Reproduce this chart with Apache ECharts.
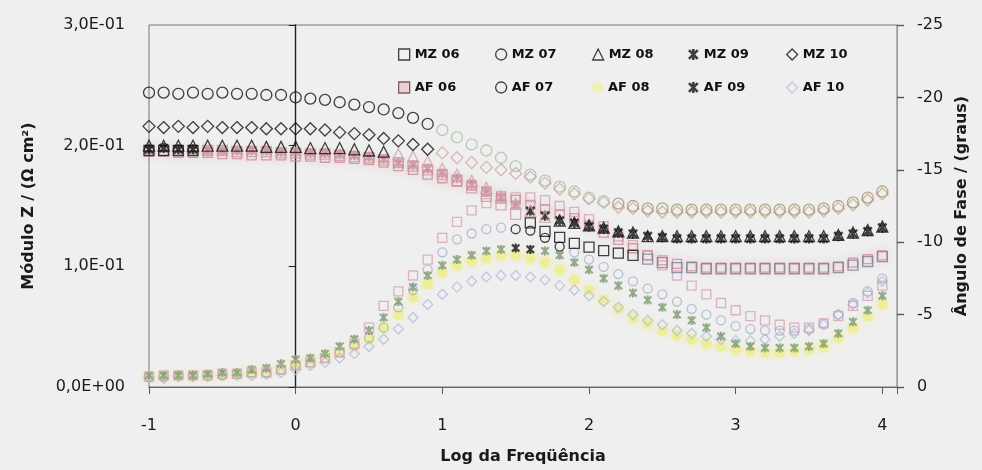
<!DOCTYPE html>
<html>
<head>
<meta charset="utf-8">
<title>Módulo Z e Ângulo de Fase</title>
<script src="https://cdn.jsdelivr.net/npm/echarts@6.0.0/dist/echarts.min.js"></script>
<style>
  html, body { margin: 0; padding: 0; background: #efefef; }
  #chart { width: 982px; height: 470px; }
</style>
</head>
<body>
<div id="chart"></div>
<script>
// log da frequência dos pontos medidos
const logF = [-1.0,-0.9,-0.8,-0.7,-0.6,-0.5,-0.4,-0.3,-0.2,-0.1,
  0.0,0.1,0.2,0.3,0.4,0.5,0.6,0.7,0.8,0.9,
  1.0,1.1,1.2,1.3,1.4,1.5,1.6,1.7,1.8,1.9,
  2.0,2.1,2.2,2.3,2.4,2.5,2.6,2.7,2.8,2.9,
  3.0,3.1,3.2,3.3,3.4,3.5,3.6,3.7,3.8,3.9,
  4.0];

// módulo Z (eixo esquerdo)
const mz06Mod = [0.196,0.196,0.196,0.196,0.196,0.196,0.195,0.195,0.195,0.194,
  0.194,0.193,0.193,0.192,0.191,0.190,0.188,0.186,0.183,0.180,
  0.176,0.171,0.165,0.158,0.151,0.143,0.136,0.129,0.124,0.119,
  0.116,0.113,0.111,0.109,0.106,0.103,0.099,0.099,0.098,0.098,
  0.098,0.098,0.098,0.098,0.098,0.098,0.098,0.099,0.101,0.104,
  0.108];
const mz07Mod = [0.244,0.244,0.243,0.244,0.243,0.244,0.243,0.243,0.242,0.242,
  0.240,0.239,0.238,0.236,0.234,0.232,0.230,0.227,0.223,0.218,
  0.213,0.207,0.201,0.196,0.190,0.183,0.176,0.171,0.166,0.162,
  0.157,0.154,0.152,0.150,0.148,0.148,0.147,0.147,0.147,0.147,
  0.147,0.147,0.147,0.147,0.147,0.147,0.148,0.150,0.153,0.157,
  0.162];
const mz08Mod = [0.200,0.200,0.200,0.200,0.200,0.200,0.200,0.200,0.199,0.199,
  0.199,0.198,0.198,0.198,0.197,0.196,0.195,0.193,0.191,0.187,
  0.181,0.176,0.171,0.165,0.158,0.152,0.146,0.141,0.138,0.136,
  0.134,0.132,0.129,0.128,0.125,0.125,0.125,0.125,0.125,0.125,
  0.125,0.125,0.125,0.125,0.125,0.125,0.125,0.126,0.128,0.130,
  0.133];
const mz09Mod = [0.197,0.198,0.197,0.197,0.196,0.196,0.196,0.196,0.196,0.195,
  0.195,0.194,0.194,0.193,0.192,0.191,0.189,0.186,0.184,0.181,
  0.177,0.173,0.168,0.162,0.157,0.151,0.146,0.142,0.138,0.136,
  0.133,0.131,0.128,0.127,0.125,0.124,0.123,0.123,0.123,0.123,
  0.123,0.123,0.123,0.123,0.123,0.123,0.123,0.125,0.127,0.129,
  0.132];
const mz10Mod = [0.216,0.215,0.216,0.215,0.216,0.215,0.215,0.215,0.214,0.214,
  0.214,0.214,0.213,0.211,0.210,0.209,0.206,0.204,0.201,0.197,
  0.194,0.190,0.186,0.182,0.180,0.177,0.174,0.169,0.164,0.160,
  0.156,0.153,0.149,0.148,0.146,0.145,0.145,0.145,0.145,0.145,
  0.145,0.145,0.145,0.145,0.145,0.145,0.146,0.148,0.151,0.155,
  0.160];
const af06Mod = [0.195,0.195,0.194,0.194,0.194,0.193,0.193,0.192,0.192,0.192,
  0.191,0.191,0.190,0.190,0.189,0.188,0.186,0.183,0.180,0.176,
  0.173,0.170,0.167,0.162,0.158,0.155,0.151,0.147,0.143,0.140,
  0.134,0.128,0.122,0.115,0.109,0.105,0.102,0.100,0.099,0.099,
  0.099,0.099,0.099,0.099,0.099,0.099,0.099,0.100,0.103,0.106,
  0.109];

// ângulo de fase em graus (eixo direito)
const af06Phase = [-0.7,-0.8,-0.8,-0.8,-0.8,-0.9,-0.9,-1.0,-1.0,-1.2,
  -1.5,-1.7,-2.0,-2.4,-3.0,-4.1,-5.6,-6.6,-7.7,-8.8,
  -10.3,-11.4,-12.2,-12.7,-13.0,-13.1,-13.1,-12.9,-12.5,-12.1,
  -11.6,-11.1,-10.4,-9.8,-9.1,-8.4,-7.7,-7.0,-6.4,-5.8,
  -5.3,-4.9,-4.6,-4.3,-4.1,-4.1,-4.4,-4.9,-5.6,-6.3,
  -7.0];
const af07Phase = [-0.7,-0.7,-0.8,-0.8,-0.8,-0.8,-0.9,-1.0,-1.0,-1.2,
  -1.5,-1.7,-2.0,-2.4,-2.9,-3.4,-4.1,-5.5,-6.7,-8.1,
  -9.3,-10.2,-10.6,-10.9,-11.0,-10.9,-10.8,-10.3,-9.7,-9.3,
  -8.8,-8.3,-7.8,-7.3,-6.8,-6.4,-5.9,-5.4,-5.0,-4.6,
  -4.2,-4.0,-3.9,-3.9,-3.9,-4.0,-4.4,-5.0,-5.8,-6.6,
  -7.5];
const af08Phase = [-0.7,-0.7,-0.8,-0.8,-0.8,-0.8,-0.9,-1.0,-1.1,-1.3,
  -1.6,-1.8,-2.1,-2.4,-2.8,-3.3,-4.1,-5.0,-6.2,-7.1,
  -7.9,-8.4,-8.7,-8.9,-9.1,-9.1,-8.9,-8.6,-8.1,-7.4,
  -6.7,-6.0,-5.4,-4.8,-4.4,-3.9,-3.6,-3.3,-3.0,-2.8,
  -2.6,-2.5,-2.4,-2.4,-2.5,-2.6,-2.8,-3.4,-4.1,-4.9,
  -5.7];
const af09Phase = [-0.8,-0.8,-0.8,-0.8,-0.9,-1.0,-1.0,-1.2,-1.3,-1.6,
  -1.9,-2.0,-2.3,-2.8,-3.3,-3.9,-4.8,-5.9,-6.9,-7.7,
  -8.4,-8.8,-9.1,-9.4,-9.5,-9.6,-9.5,-9.4,-9.1,-8.6,
  -8.1,-7.5,-7.0,-6.5,-6.0,-5.5,-5.0,-4.6,-4.1,-3.5,
  -3.0,-2.8,-2.7,-2.7,-2.7,-2.8,-3.0,-3.7,-4.5,-5.3,
  -6.3];
const af10Phase = [-0.6,-0.6,-0.7,-0.7,-0.7,-0.8,-0.8,-0.8,-0.9,-1.0,
  -1.2,-1.5,-1.7,-2.0,-2.3,-2.8,-3.3,-4.0,-4.8,-5.7,
  -6.4,-6.9,-7.3,-7.6,-7.7,-7.7,-7.6,-7.4,-7.0,-6.7,
  -6.3,-5.9,-5.5,-5.0,-4.6,-4.3,-3.9,-3.7,-3.5,-3.3,
  -3.2,-3.2,-3.3,-3.5,-3.7,-3.9,-4.3,-5.0,-5.7,-6.5,
  -7.3];

const FONT = 'DejaVu Sans';
const ASTERISK = 'path://M3.8,0L6.2,0L6.2,10L3.8,10Z' +
  'M1.85,0.15L9.85,8.15L8.15,9.85L0.15,1.85Z' +
  'M9.85,1.85L1.85,9.85L0.15,8.15L8.15,0.15Z';

// cor de cada trecho: [até log f, cor]
function colorAt(segs, x) {
  for (const [upTo, c] of segs) if (x <= upTo) return c;
  return segs[segs.length - 1][1];
}

function scatter(name, yAxisIndex, values, symbol, size, segs, hollow, extra) {
  const data = values.map((v, i) => {
    const c = colorAt(segs, logF[i]);
    return {
      value: [logF[i], v],
      itemStyle: hollow ? { color: 'rgba(0,0,0,0)', borderColor: c } : { color: c }
    };
  });
  return Object.assign({
    type: 'scatter',
    name: name,
    yAxisIndex: yAxisIndex,
    symbol: symbol,
    symbolSize: size,
    data: data,
    itemStyle: { borderWidth: hollow ? 1.3 : 0 },
    emphasis: { disabled: true },
    silent: true
  }, extra || {});
}

const hollowIcon = c => ({ color: 'rgba(0,0,0,0)', borderColor: c, borderWidth: 1.3 });

// uma legenda por coluna para manter o espaçamento da figura
const legendCols = [398, 495, 592, 688, 786];
const legendRows = [48, 81];
const legendItems = [
  [
    { name: 'MZ 06', icon: 'rect', itemStyle: hollowIcon('#111') },
    { name: 'MZ 07', icon: 'circle', itemStyle: hollowIcon('#111') },
    { name: 'MZ 08', icon: 'triangle', itemStyle: hollowIcon('#111') },
    { name: 'MZ 09', icon: ASTERISK, itemStyle: { color: '#111', borderWidth: 0 } },
    { name: 'MZ 10', icon: 'diamond', itemStyle: hollowIcon('#111') }
  ],
  [
    { name: 'AF 06', icon: 'rect', itemStyle: { color: '#e7c9cc', borderColor: '#6e3a40', borderWidth: 1.3 } },
    { name: 'AF 07', icon: 'circle', itemStyle: hollowIcon('#111') },
    { name: 'AF 08', icon: 'circle', itemStyle: { color: '#eef1a8', borderWidth: 0 } },
    { name: 'AF 09', icon: ASTERISK, itemStyle: { color: '#111', borderWidth: 0 } },
    { name: 'AF 10', icon: 'diamond', itemStyle: hollowIcon('#b8bfe0') }
  ]
];
const legends = [];
legendItems.forEach((row, r) => row.forEach((item, c) => {
  legends.push({
    left: legendCols[c],
    top: legendRows[r],
    itemWidth: 11,
    itemHeight: 11,
    padding: 0,
    selectedMode: false,
    textStyle: { fontFamily: FONT, fontWeight: 'bold', fontSize: 13, color: '#111' },
    data: [item]
  });
}));

function sciLabel(v) {
  const parts = v.toExponential(1).split('e');
  const e = parseInt(parts[1], 10);
  return parts[0].replace('.', ',') + 'E' + (e < 0 ? '-' : '+') + String(Math.abs(e)).padStart(2, '0');
}

const tickFont = { fontFamily: FONT, fontSize: 16, color: '#1a1a1a' };
const nameFont = { fontFamily: FONT, fontSize: 16, fontWeight: 'bold', color: '#1a1a1a' };

const option = {
  backgroundColor: '#efefef',
  animation: false,
  grid: {
    left: 149, right: 85, top: 25, bottom: 83,
    show: true, borderColor: '#777', borderWidth: 1, backgroundColor: 'transparent'
  },
  legend: legends,
  xAxis: {
    type: 'value',
    min: -1, max: 4.1, interval: 1,
    name: 'Log da Freqüência',
    nameLocation: 'middle',
    nameGap: 62,
    nameTextStyle: nameFont,
    axisLine: { lineStyle: { color: '#666', width: 1.2 } },
    axisTick: { length: 7, lineStyle: { color: '#555' } },
    axisLabel: Object.assign({ margin: 31, formatter: v => Number.isInteger(v) ? String(v) : '' }, tickFont),
    splitLine: { show: false }
  },
  yAxis: [
    {
      type: 'value',
      position: 'left',
      min: 0, max: 0.3, interval: 0.1,
      name: 'Módulo Z / (Ω cm²)',
      nameLocation: 'middle',
      nameRotate: 90,
      nameGap: 112,
      nameTextStyle: nameFont,
      axisLine: { show: true, lineStyle: { color: '#222', width: 1.4 } },
      axisTick: { show: true, length: 7, lineStyle: { color: '#222' } },
      axisLabel: Object.assign({ margin: 24, formatter: sciLabel }, tickFont),
      splitLine: { show: false }
    },
    {
      type: 'value',
      position: 'right',
      min: -25, max: 0, interval: 5,
      inverse: true,
      name: 'Ângulo de Fase / (graus)',
      nameLocation: 'middle',
      nameRotate: 90,
      nameGap: 56,
      nameTextStyle: nameFont,
      axisLine: { show: true, lineStyle: { color: '#9a9a9a', width: 1 } },
      axisTick: { show: true, length: 7, lineStyle: { color: '#555', width: 1.4 } },
      axisLabel: Object.assign({ margin: 20 }, tickFont),
      splitLine: { show: false }
    }
  ],
  series: [
    // ângulo de fase
    scatter('AF 08', 1, af08Phase, 'circle', 11, [[9, 'rgba(236,236,120,0.75)']], false,
      { itemStyle: { borderWidth: 0, shadowBlur: 6, shadowColor: 'rgba(240,240,120,0.8)' } }),
    scatter('AF 10', 1, af10Phase, 'diamond', 10, [[9, '#b3bde0']], true),
    scatter('AF 07', 1, af07Phase, 'circle', 9, [[1.45, '#a3b3cf'], [1.85, '#111'], [9, '#a7b2c8']], true),
    scatter('AF 09', 1, af09Phase, ASTERISK, 9, [[1.45, '#7c9a72'], [1.65, '#111'], [9, '#7c9a72']], false),
    scatter('AF 06', 1, af06Phase, 'rect', 9, [[9, '#d7a1b5']], true),
    // módulo Z
    scatter('AF 06', 0, af06Mod, 'rect', 9, [[9, '#cf8693']], true,
      { itemStyle: { borderWidth: 1.3, shadowBlur: 8, shadowColor: 'rgba(215,120,135,0.55)' } }),
    scatter('MZ 06', 0, mz06Mod, 'rect', 10, [[-0.65, '#111'], [1.55, '#cf97a2'], [2.35, '#111'], [9, '#7b8097']], true),
    scatter('MZ 09', 0, mz09Mod, ASTERISK, 10, [[-0.65, '#111'], [1.55, '#c78c97'], [9, '#111']], false),
    scatter('MZ 08', 0, mz08Mod, 'triangle', 11, [[0.65, '#111'], [1.75, '#d6a3ab'], [9, '#111']], true),
    scatter('MZ 10', 0, mz10Mod, 'diamond', 12, [[0.95, '#111'], [2.25, '#d2a9a0'], [9, '#c4ab8c']], true),
    scatter('MZ 07', 0, mz07Mod, 'circle', 11, [[0.95, '#111'], [2.15, '#a9bfa3'], [9, '#a49570']], true)
  ]
};

const chart = echarts.init(document.getElementById('chart'));
chart.setOption(option);
</script>
</body>
</html>
